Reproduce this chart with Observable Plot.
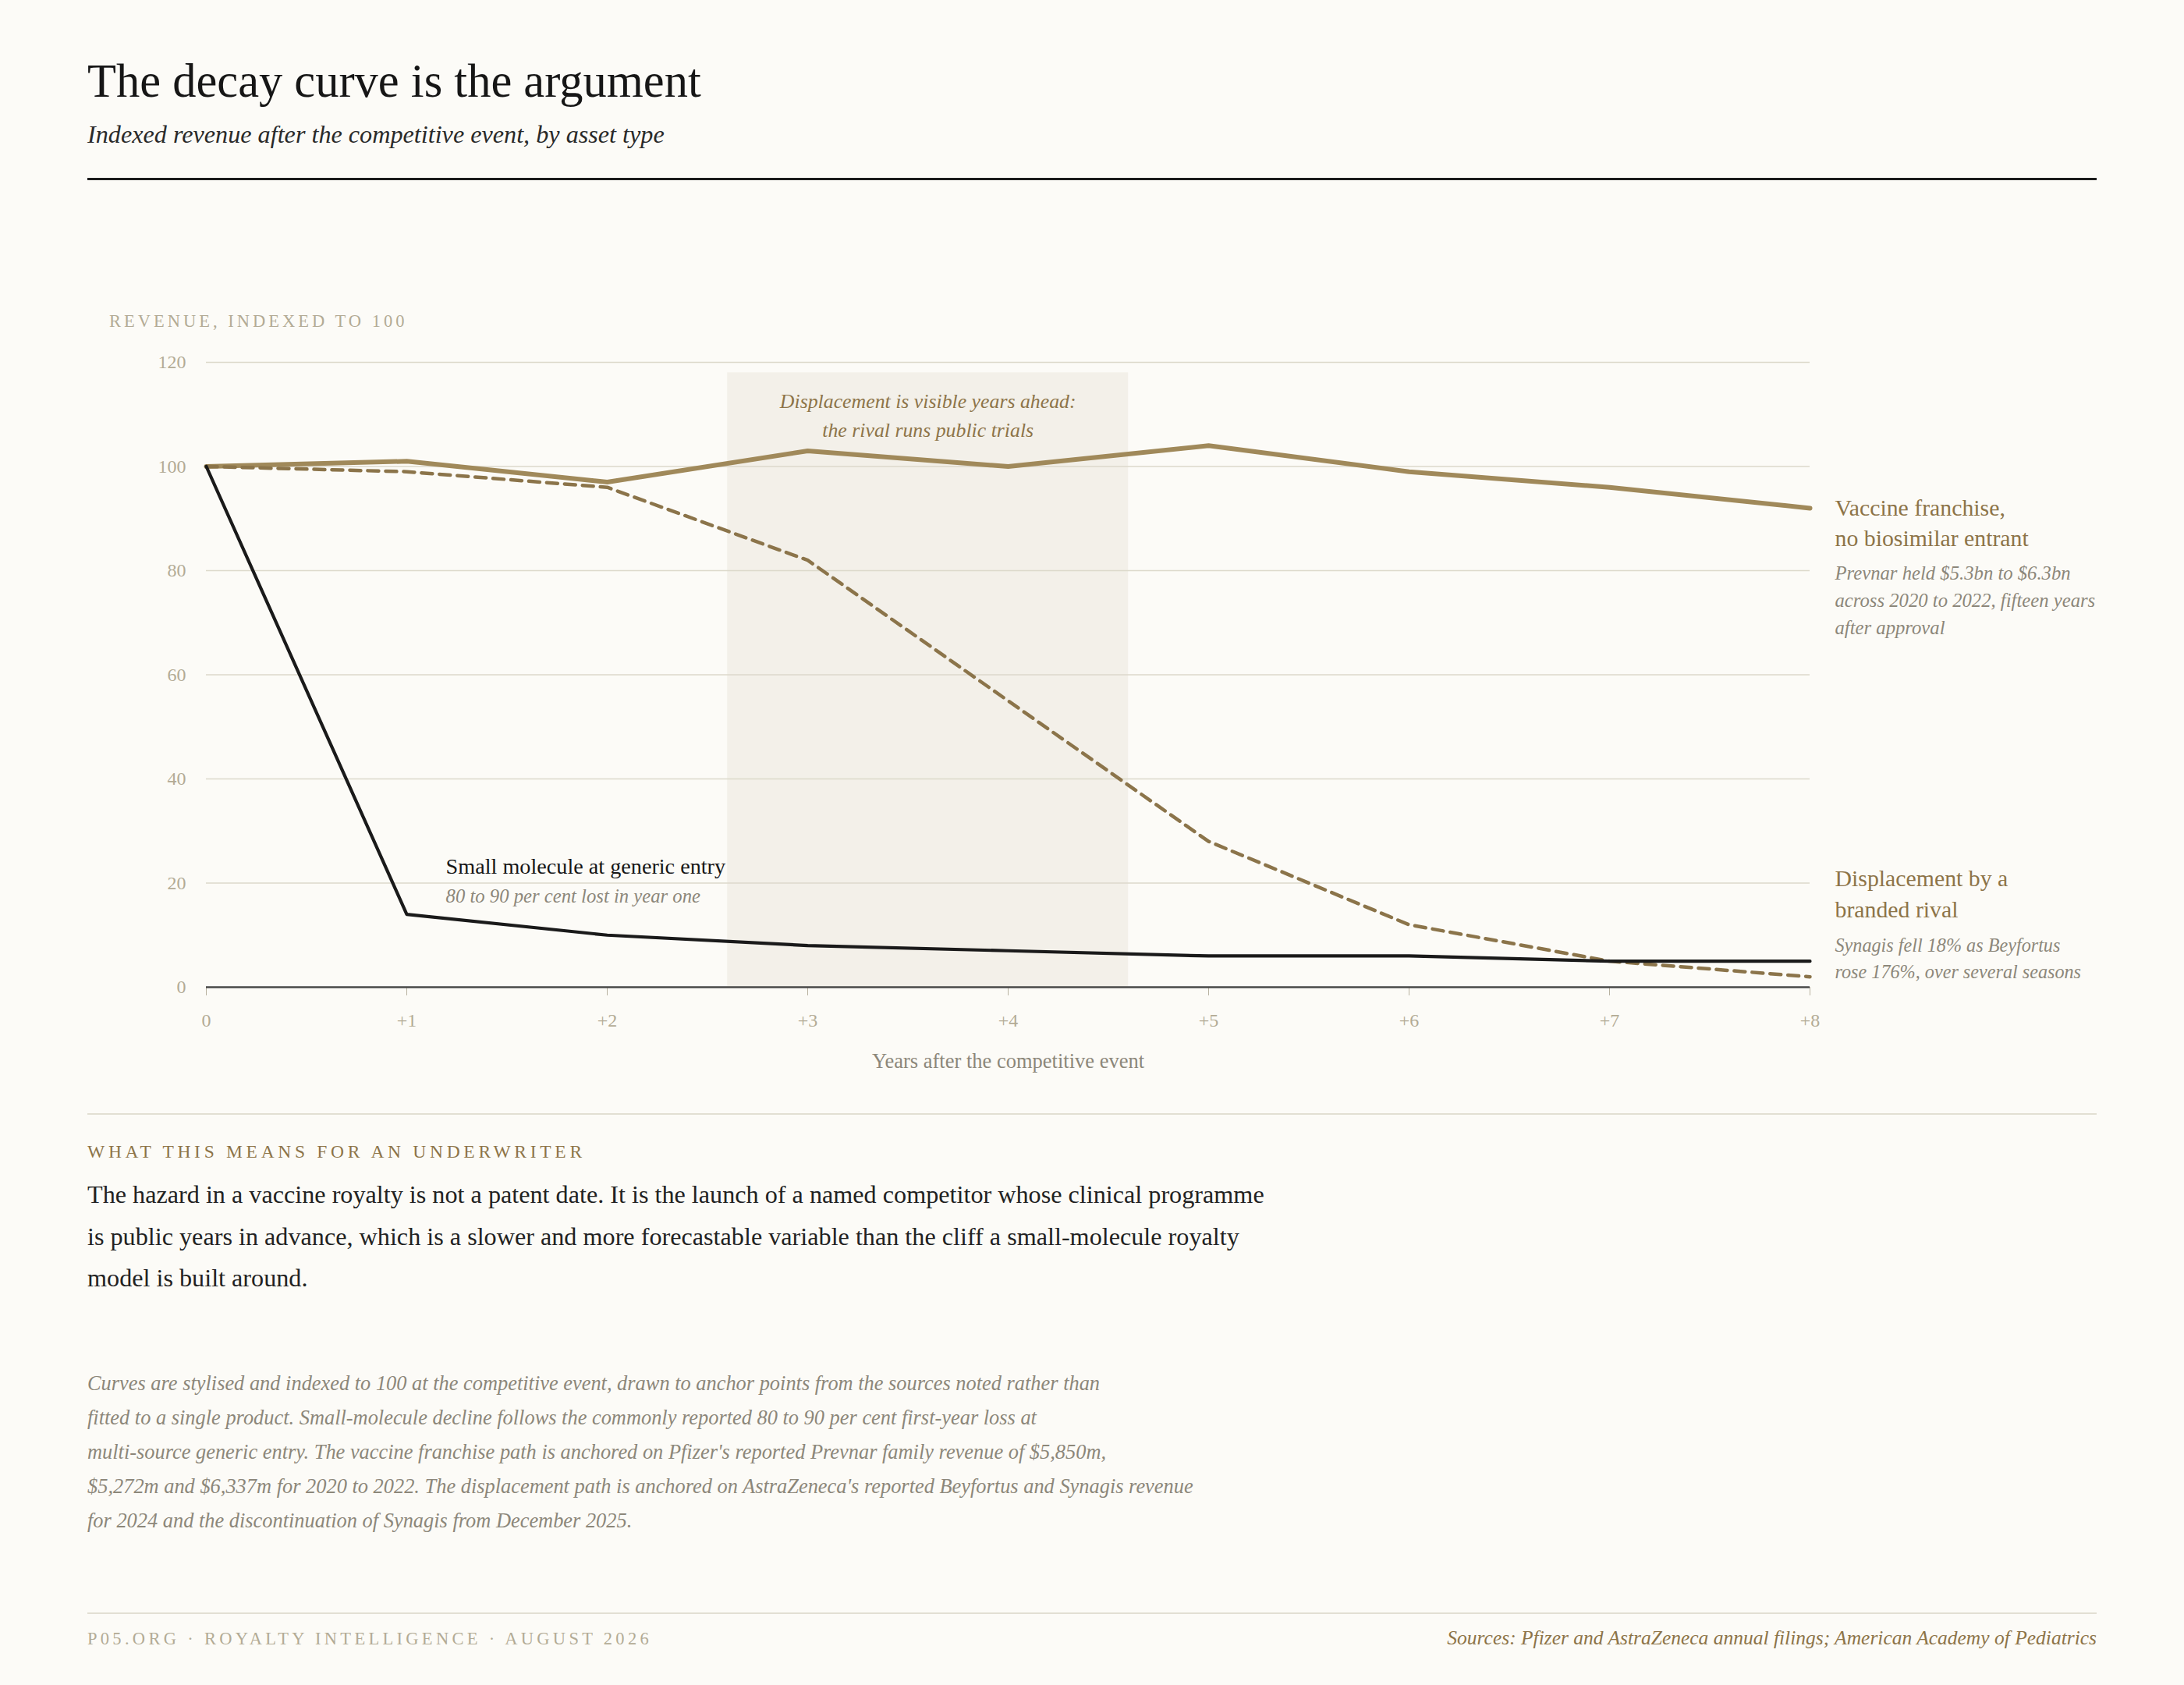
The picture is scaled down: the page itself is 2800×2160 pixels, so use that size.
<!DOCTYPE html>
<html>
<head>
<meta charset="utf-8">
<script src="https://cdn.jsdelivr.net/npm/d3@7"></script>
<script src="https://cdn.jsdelivr.net/npm/@observablehq/plot@0.6"></script>
<style>
  html, body { margin:0; padding:0; background:#fcfbf7; }
  body { width:2800px; height:2160px; position:relative; font-family:"Liberation Serif", serif; color:#1c1c1c; overflow:hidden; }
  .abs { position:absolute; white-space:nowrap; }
  #title { left:112px; top:74px; font-size:60.5px; line-height:1; color:#161616; }
  #subtitle { left:112px; top:154px; font-size:32.2px; font-style:italic; color:#2a2a2a; }
  #rule1 { left:112px; top:228px; width:2576px; height:3px; background:#1c1c1c; }
  #ylab { left:140px; top:399px; font-size:22.5px; letter-spacing:4px; color:#b3ab95; }
  #chart { left:112px; top:380px; }
  #rule2 { left:112px; top:1427px; width:2576px; height:2px; background:#e2dfd3; }
  #kicker { left:112px; top:1463px; font-size:23.5px; letter-spacing:4.7px; color:#8d7448; }
  #para { left:112px; top:1505px; font-size:32.2px; line-height:53.6px; color:#222; }
  #caption { left:112px; top:1751px; font-size:26.4px; line-height:44px; font-style:italic; color:#8c877a; }
  #rule3 { left:112px; top:2067px; width:2576px; height:2px; background:#e2dfd3; }
  #foot1 { left:112px; top:2088px; font-size:22.5px; letter-spacing:4.3px; color:#b3ab95; }
  #foot2 { right:112px; top:2085px; font-size:25.5px; font-style:italic; color:#8d7448; }
</style>
</head>
<body>
<div id="title" class="abs">The decay curve is the argument</div>
<div id="subtitle" class="abs">Indexed revenue after the competitive event, by asset type</div>
<div id="rule1" class="abs"></div>
<div id="ylab" class="abs">REVENUE, INDEXED TO 100</div>
<div id="chart" class="abs"></div>
<div id="rule2" class="abs"></div>
<div id="kicker" class="abs">WHAT THIS MEANS FOR AN UNDERWRITER</div>
<div id="para" class="abs">The hazard in a vaccine royalty is not a patent date. It is the launch of a named competitor whose clinical programme<br>is public years in advance, which is a slower and more forecastable variable than the cliff a small-molecule royalty<br>model is built around.</div>
<div id="caption" class="abs">Curves are stylised and indexed to 100 at the competitive event, drawn to anchor points from the sources noted rather than<br>fitted to a single product. Small-molecule decline follows the commonly reported 80 to 90 per cent first-year loss at<br>multi-source generic entry. The vaccine franchise path is anchored on Pfizer's reported Prevnar family revenue of $5,850m,<br>$5,272m and $6,337m for 2020 to 2022. The displacement path is anchored on AstraZeneca's reported Beyfortus and Synagis revenue<br>for 2024 and the discontinuation of Synagis from December 2025.</div>
<div id="rule3" class="abs"></div>
<div id="foot1" class="abs">P05.ORG · ROYALTY INTELLIGENCE · AUGUST 2026</div>
<div id="foot2" class="abs">Sources: Pfizer and AstraZeneca annual filings; American Academy of Pediatrics</div>

<script>
// ---- data ----
const years = [0, 1, 2, 3, 4, 5, 6, 7, 8];
const xTickLabels = ["0", "+1", "+2", "+3", "+4", "+5", "+6", "+7", "+8"];
const yTicks = [0, 20, 40, 60, 80, 100, 120];
const vaccine = [100, 101, 97, 103, 100, 104, 99, 96, 92];
const displacement = [100, 99, 96, 82, 55, 28, 12, 5, 2];
const smallMolecule = [100, 14, 10, 8, 7, 6, 6, 5, 5];
const trialWindow = [2.6, 4.6];
const trialWindowTop = 118;

const vaccineRows = years.map((x, i) => ({x, y: vaccine[i]}));
const displacementRows = years.map((x, i) => ({x, y: displacement[i]}));
const smallRows = years.map((x, i) => ({x, y: smallMolecule[i]}));

const gold = "#a0895a";
const goldDark = "#8b744a";
const labelGold = "#8d7448";
const noteGrey = "#8c877a";
const tickGrey = "#b3ab95";

const chart = Plot.plot({
  width: 2576,
  height: 1020,
  marginLeft: 152,
  marginRight: 368,
  marginTop: 84,
  marginBottom: 135,
  style: {fontFamily: "Liberation Serif, serif", background: "transparent", overflow: "visible"},
  x: {domain: [0, 8]},
  y: {domain: [0, 120]},
  marks: [
    Plot.rect([{x1: trialWindow[0], x2: trialWindow[1], y1: 0, y2: trialWindowTop}],
      {x1: "x1", x2: "x2", y1: "y1", y2: "y2", fill: "#f3f0e9"}),
    Plot.gridY(yTicks, {stroke: "#dcd9cb", strokeOpacity: 1, strokeWidth: 1.6}),
    Plot.axisY(yTicks, {tickSize: 0, tickPadding: 26, fontSize: 24, color: tickGrey, label: null}),
    Plot.axisX(years, {tickFormat: d => xTickLabels[d], tickSize: 11, tickPadding: 22, fontSize: 24, color: tickGrey, stroke: "#b8b2a0", label: null}),
    Plot.ruleY([0], {stroke: "#4a4a4a", strokeWidth: 2.5}),
    Plot.text(["Years after the competitive event"], {frameAnchor: "bottom", dy: 103, fontSize: 26.5, fill: noteGrey}),
    Plot.line(vaccineRows, {x: "x", y: "y", stroke: gold, strokeWidth: 6}),
    Plot.line(displacementRows, {x: "x", y: "y", stroke: goldDark, strokeWidth: 4.5, strokeDasharray: "14,9"}),
    Plot.line(smallRows, {x: "x", y: "y", stroke: "#1a1a1a", strokeWidth: 4.2}),
    Plot.text(["Displacement is visible years ahead:\nthe rival runs public trials"],
      {x: (trialWindow[0] + trialWindow[1]) / 2, y: trialWindowTop, dy: 20, lineAnchor: "top", lineHeight: 1.4, fontSize: 25.8, fontStyle: "italic", fill: labelGold}),
    Plot.text(["Small molecule at generic entry"], {x: 1.195, y: 23.1, textAnchor: "start", fontSize: 28.2, fill: "#161616"}),
    Plot.text(["80 to 90 per cent lost in year one"], {x: 1.195, y: 17.5, textAnchor: "start", fontSize: 24.7, fontStyle: "italic", fill: noteGrey}),
    Plot.text(["Vaccine franchise,\nno biosimilar entrant"], {x: 8, y: 92, dx: 32, dy: -19, textAnchor: "start", lineAnchor: "top", lineHeight: 1.33, fontSize: 29.8, fill: labelGold}),
    Plot.text(["Prevnar held $5.3bn to $6.3bn\nacross 2020 to 2022, fifteen years\nafter approval"], {x: 8, y: 79.6, dx: 32, dy: -16, textAnchor: "start", lineAnchor: "top", lineHeight: 1.41, fontSize: 24.7, fontStyle: "italic", fill: noteGrey}),
    Plot.text(["Displacement by a\nbranded rival"], {x: 8, y: 20.7, dx: 32, dy: -19, textAnchor: "start", lineAnchor: "top", lineHeight: 1.33, fontSize: 29.8, fill: labelGold}),
    Plot.text(["Synagis fell 18% as Beyfortus\nrose 176%, over several seasons"], {x: 8, y: 8.1, dx: 32, dy: -16, textAnchor: "start", lineAnchor: "top", lineHeight: 1.41, fontSize: 24.2, fontStyle: "italic", fill: noteGrey})
  ]
});
document.getElementById("chart").appendChild(chart);
</script>
</body>
</html>
